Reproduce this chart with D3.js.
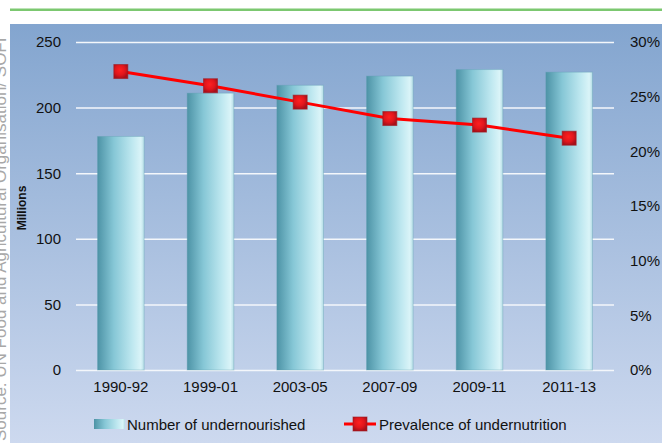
<!DOCTYPE html>
<html>
<head>
<meta charset="utf-8">
<script src="https://cdn.jsdelivr.net/npm/d3@7"></script>
<style>
  body { margin: 0; background: #fff; }
  svg { display: block; font-family: "Liberation Sans", Arial, sans-serif; }
</style>
</head>
<body>
<div id="chart"></div>
<script>
const periods = ['1990-92', '1999-01', '2003-05', '2007-09', '2009-11', '2011-13']
const undernourished = [178, 211, 217, 224, 229, 227]
const prevalence = [27.3, 26.0, 24.5, 23.0, 22.4, 21.2]
const leftTicks = [0, 50, 100, 150, 200, 250]
const rightTicks = [0, 5, 10, 15, 20, 25, 30]

const W = 662, H = 443
const margin = {top: 42, right: 48, bottom: 73, left: 76}
const width = W - margin.left - margin.right,
  height = H - margin.top - margin.bottom

const svg = d3.select('#chart').append('svg')
  .attr('width', W)
  .attr('height', H)

const defs = svg.append('defs')

const bg = defs.append('linearGradient').attr('id', 'bg')
  .attr('x1', 0).attr('y1', 0).attr('x2', 0).attr('y2', 1)
bg.append('stop').attr('offset', '0%').attr('stop-color', '#83a5cf')
bg.append('stop').attr('offset', '100%').attr('stop-color', '#cdd9ef')

const barGrad = defs.append('linearGradient').attr('id', 'barGrad')
  .attr('x1', 0).attr('y1', 0).attr('x2', 1).attr('y2', 0)
barGrad.append('stop').attr('offset', '0%').attr('stop-color', '#4d93a6')
barGrad.append('stop').attr('offset', '35%').attr('stop-color', '#86c7d6')
barGrad.append('stop').attr('offset', '75%').attr('stop-color', '#bfe8f0')
barGrad.append('stop').attr('offset', '93%').attr('stop-color', '#daf4f8')
barGrad.append('stop').attr('offset', '100%').attr('stop-color', '#b5dde6')

const mark = defs.append('radialGradient').attr('id', 'mark')
  .attr('cx', '45%').attr('cy', '40%').attr('r', '60%')
mark.append('stop').attr('offset', '0%').attr('stop-color', '#ff2020')
mark.append('stop').attr('offset', '60%').attr('stop-color', '#e0161c')
mark.append('stop').attr('offset', '100%').attr('stop-color', '#a8101a')

// green rule + panel
svg.append('rect').attr('x', 10).attr('y', 8.5).attr('width', W - 10).attr('height', 2.5)
  .attr('fill', '#7cc870')
svg.append('rect').attr('x', 10).attr('y', 24).attr('width', W - 10).attr('height', H - 24)
  .attr('fill', 'url(#bg)')

// source text, clipped at the left edge as in the original
svg.append('text')
  .attr('transform', 'translate(6,' + (H - 2) + ') rotate(-90)')
  .attr('fill', '#a8a8a8')
  .style('font-size', '17px')
  .text('Source: UN Food and Agricultural Organisation/ SOFI')

const g = svg.append('g')
  .attr('transform', 'translate(' + margin.left + ',' + margin.top + ')')

const x = d3.scaleBand()
  .domain(periods)
  .range([0, width])
  .paddingInner(0.48)
  .paddingOuter(0.24)

const y = d3.scaleLinear().domain([0, 250]).range([height, 0])
const y2 = d3.scaleLinear().domain([0, 30]).range([height, 0])

// gridlines
g.append('g')
  .call(d3.axisLeft(y).tickValues(leftTicks).tickSize(-width).tickFormat(''))
  .call(a => a.select('.domain').remove())
  .selectAll('line')
  .attr('stroke', '#f4f7fb')
  .attr('stroke-width', 1.5)

// left axis labels
g.append('g')
  .call(d3.axisLeft(y).tickValues(leftTicks).tickSize(0).tickPadding(15))
  .call(a => a.select('.domain').remove())
  .selectAll('text')
  .style('font-size', '15px')
  .style('font-family', '"Liberation Sans", Arial, sans-serif')
  .attr('fill', '#111')

// right axis labels
g.append('g')
  .attr('transform', 'translate(' + width + ',0)')
  .call(d3.axisRight(y2).tickValues(rightTicks).tickSize(0).tickPadding(16)
    .tickFormat(d => d + '%'))
  .call(a => a.select('.domain').remove())
  .selectAll('text')
  .style('font-size', '15px')
  .style('font-family', '"Liberation Sans", Arial, sans-serif')
  .attr('fill', '#111')

// x axis labels
g.append('g')
  .attr('transform', 'translate(0,' + height + ')')
  .call(d3.axisBottom(x).tickSize(0).tickPadding(11))
  .call(a => a.select('.domain').remove())
  .selectAll('text')
  .style('font-size', '15px')
  .style('font-family', '"Liberation Sans", Arial, sans-serif')
  .attr('fill', '#111')

// bars
g.append('g').selectAll('rect')
  .data(periods)
  .enter()
  .append('rect')
  .attr('x', d => x(d))
  .attr('y', (d, i) => y(undernourished[i]))
  .attr('width', x.bandwidth())
  .attr('height', (d, i) => height - y(undernourished[i]))
  .attr('fill', 'url(#barGrad)')
  .attr('stroke', '#5b9fb0')
  .attr('stroke-opacity', 0.35)
  .attr('stroke-width', 1)

// line on secondary axis
const line = d3.line()
  .x((d, i) => x(periods[i]) + x.bandwidth() / 2)
  .y(d => y2(d))

g.append('path')
  .datum(prevalence)
  .attr('d', line)
  .attr('fill', 'none')
  .attr('stroke', '#ff0000')
  .attr('stroke-width', 3)

g.append('g').selectAll('rect')
  .data(prevalence)
  .enter()
  .append('rect')
  .attr('x', (d, i) => x(periods[i]) + x.bandwidth() / 2 - 7)
  .attr('y', d => y2(d) - 7)
  .attr('width', 14)
  .attr('height', 14)
  .attr('fill', 'url(#mark)')
  .attr('stroke', '#9e1a22')
  .attr('stroke-opacity', 0.6)

// y title
svg.append('text')
  .attr('transform', 'translate(26,208) rotate(-90)')
  .attr('text-anchor', 'middle')
  .style('font-size', '12px')
  .style('font-weight', 'bold')
  .attr('fill', '#111')
  .text('Millions')

// legend
const leg = svg.append('g').attr('transform', 'translate(0,424)')
leg.append('rect').attr('x', 94).attr('y', -5).attr('width', 31).attr('height', 10)
  .attr('fill', 'url(#barGrad)')
leg.append('text').attr('x', 127).attr('y', 5.5)
  .style('font-size', '15px').attr('fill', '#111')
  .text('Number of undernourished')
leg.append('line').attr('x1', 344).attr('x2', 376).attr('y1', 0).attr('y2', 0)
  .attr('stroke', '#ff0000').attr('stroke-width', 3)
leg.append('rect').attr('x', 353).attr('y', -7).attr('width', 14).attr('height', 14)
  .attr('fill', 'url(#mark)').attr('stroke', '#9e1a22').attr('stroke-opacity', 0.6)
leg.append('text').attr('x', 379).attr('y', 5.5)
  .style('font-size', '15px').attr('fill', '#111')
  .text('Prevalence of undernutrition')
</script>
</body>
</html>
